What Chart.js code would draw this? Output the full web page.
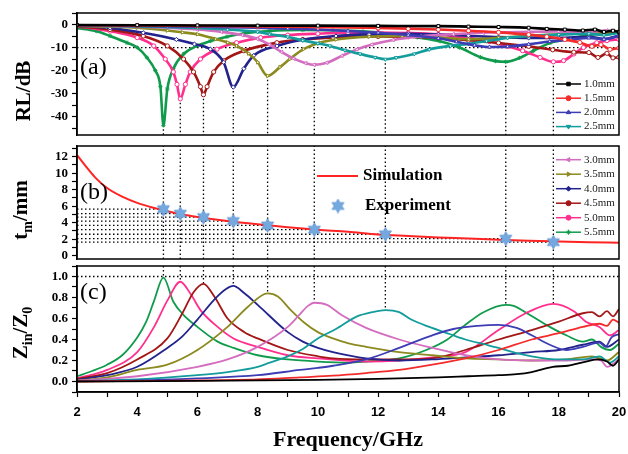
<!DOCTYPE html>
<html>
<head>
<meta charset="utf-8">
<script src="https://cdn.jsdelivr.net/npm/chart.js@4.4.0/dist/chart.umd.min.js"></script>
<style>
  html, body { margin: 0; padding: 0; background: #fff; }
  #wrap { position: relative; width: 628px; height: 454px; overflow: hidden; }
  #wrap canvas { position: absolute; left: 0; }
  .ytitle { position: absolute; transform: translate(-50%, -50%) rotate(-90deg); white-space: nowrap;
            font: bold 21px "Liberation Serif", "Times New Roman", serif; color: #000; }
  .ytitle sub { font-size: 14px; vertical-align: -5px; }
  .plab { position: absolute; transform: translateY(-50%); font: 24px "Liberation Serif", "Times New Roman", serif; color: #000; }
</style>
</head>
<body>
<div id="wrap">
  <canvas id="panelA" width="628" height="140" style="top:0px"></canvas>
  <canvas id="panelB" width="628" height="131" style="top:137px"></canvas>
  <canvas id="panelC" width="628" height="191" style="top:263px"></canvas>
  <div class="ytitle" style="left:23px; top:91px">RL/dB</div>
  <div class="ytitle" style="left:22px; top:210px">t<sub>m</sub>/mm</div>
  <div class="ytitle" style="left:22px; top:333px">Z<sub>in</sub>/Z<sub>0</sub></div>
  <div class="plab" style="left:80px; top:66px">(a)</div>
  <div class="plab" style="left:80px; top:191px">(b)</div>
  <div class="plab" style="left:80px; top:291px">(c)</div>
</div>
<script>
// ---- data ----
const thickness = ['1.0mm', '1.5mm', '2.0mm', '2.5mm', '3.0mm', '3.5mm', '4.0mm', '4.5mm', '5.0mm', '5.5mm'];

// (a) reflection loss, [GHz, dB]
const rl10 = [[2,-0.2],[4,-0.3],[6,-0.4],[8,-0.5],[10,-0.5],[12,-0.6],[14,-0.7],[15,-0.9],[16,-1.1],[17,-1.4],[17.6,-1.9],[18.2,-2.2],[18.8,-2.6],[19.2,-2.2],[19.5,-3.2],[19.8,-2.7],[20,-3.3]];
const rl15 = [[2,-0.3],[4,-0.4],[6,-0.6],[8,-0.8],[10,-1.1],[12,-1.5],[13,-1.8],[14,-2.2],[15,-2.7],[16,-3.4],[17,-4.4],[17.6,-5.3],[18.2,-6.5],[18.7,-7.8],[19.1,-9.5],[19.4,-8.8],[19.7,-10.8],[20,-10.2]];
const rl20 = [[2,-0.4],[4,-0.6],[6,-0.9],[8,-1.4],[9,-1.8],[10,-2.2],[11,-2.8],[12,-3.6],[13,-4.6],[14,-6.0],[14.6,-7.5],[15.2,-9.0],[15.7,-9.8],[16.3,-9.6],[17,-8.6],[17.7,-7.4],[18.4,-6.5],[19,-5.8],[19.5,-6.4],[20,-5.0]];
const rl25 = [[2,-0.4],[3,-0.6],[4,-0.8],[5,-1.1],[6,-1.5],[7,-2.2],[8,-3.2],[8.4,-4.2],[9,-5.4],[9.5,-6.9],[10,-8.2],[10.4,-9.3],[10.9,-11.2],[11.4,-12.8],[11.9,-14.3],[12.24,-15.1],[12.6,-14.4],[13.2,-12.8],[13.7,-10.8],[14.4,-9.3],[15,-8.4],[15.6,-7.2],[16.3,-5.8],[17,-5.0],[18,-4.4],[19,-4.0],[19.5,-4.6],[20,-3.6]];
const rl30 = [[2,-0.5],[3,-0.6],[4,-0.9],[5,-1.4],[6,-2.2],[6.8,-3.2],[7.5,-4.6],[8,-6.3],[8.4,-8.8],[8.8,-12.0],[9.2,-14.8],[9.6,-16.8],[9.88,-17.5],[10.3,-16.6],[10.8,-13.6],[11.3,-10.8],[11.8,-8.7],[12.5,-6.7],[13.4,-5.2],[14.5,-4.2],[15.5,-3.6],[17,-3.2],[18,-3.0],[19,-3.3],[19.6,-2.6],[20,-3.0]];
const rl35 = [[2,-0.6],[3,-0.9],[4,-1.4],[5,-2.6],[5.5,-3.4],[6,-4.2],[6.6,-6.3],[7,-7.8],[7.3,-9.3],[7.7,-12.6],[8,-16.4],[8.33,-22.3],[8.74,-18.5],[9.07,-15.0],[9.52,-10.7],[10.07,-7.9],[10.6,-6.5],[11.7,-5.3],[12.8,-5.0],[14,-5.7],[15,-6.4],[16,-5.8],[17,-4.9],[18,-4.2],[19,-3.6],[19.5,-4.0],[20,-3.0]];
const rl40 = [[2,-0.6],[3.1,-1.5],[4.2,-3.6],[5.3,-6.5],[5.9,-8.5],[6.43,-10.7],[6.87,-16.4],[7.19,-27.2],[7.54,-19.2],[7.87,-13.5],[8.64,-9.3],[9.5,-6.6],[10.6,-5.0],[11.7,-4.3],[13,-4.0],[14,-4.3],[15,-4.9],[16,-5.5],[17,-5.8],[18,-5.8],[19,-5.3],[19.5,-6.3],[20,-4.8]];
const rl45 = [[2,-0.8],[3.1,-2.2],[4.2,-5.0],[5,-9.3],[5.54,-15.0],[5.87,-20.6],[6.1,-27.0],[6.2,-30.5],[6.32,-27.0],[6.54,-20.6],[6.87,-15.7],[7.54,-11.4],[8.64,-7.9],[9.5,-6.5],[10.5,-5.6],[12,-5.2],[13,-5.3],[14,-5.8],[15,-6.8],[16,-8.0],[17,-9.5],[17.8,-11.0],[18.5,-12.0],[19,-12.2],[19.3,-14.3],[19.6,-12.5],[19.8,-14.5],[20,-14.2]];
const rl50 = [[2,-0.7],[3.1,-2.9],[4.0,-5.7],[4.55,-9.3],[4.93,-15.0],[5.2,-20.6],[5.32,-26.0],[5.43,-32.3],[5.6,-26.0],[5.76,-20.6],[6.1,-15.0],[6.65,-10.7],[7.3,-7.9],[8.1,-5.7],[9,-4.6],[10,-4.0],[11,-3.6],[12,-3.5],[13,-3.7],[14,-4.3],[15,-5.8],[15.7,-7.4],[16.3,-9.5],[16.8,-11.4],[17.38,-14.3],[17.82,-16.2],[18.16,-15.7],[18.5,-12.8],[18.82,-10.0],[19.26,-7.9],[19.6,-7.0],[20,-6.5]];
const rl55 = [[2,-1.5],[2.66,-2.9],[3.1,-5.0],[3.66,-7.9],[4.0,-10.0],[4.32,-14.3],[4.6,-20.0],[4.77,-27.0],[4.87,-43.8],[5.0,-28.0],[5.2,-19.2],[5.54,-12.8],[5.98,-9.3],[6.43,-7.2],[6.98,-5.3],[7.54,-3.9],[8.4,-2.8],[9.5,-2.4],[10.5,-2.5],[11.5,-3.0],[12.5,-4.2],[13.3,-5.6],[14.06,-7.3],[14.7,-10.0],[15.4,-14.2],[15.9,-15.9],[16.24,-16.2],[16.7,-14.5],[17.16,-11.4],[17.71,-8.0],[18.27,-6.4],[18.82,-5.0],[19.37,-3.9],[19.7,-3.2],[20,-3.6]];

// (c) normalised input impedance, [GHz, |Zin/Z0|]
const z10 = [[2,0.0],[6,0.005],[10,0.015],[12,0.025],[14,0.04],[15,0.05],[16,0.06],[16.6,0.07],[17.1,0.09],[17.8,0.14],[18.3,0.15],[18.9,0.19],[19.3,0.21],[19.6,0.19],[19.8,0.15],[20,0.21]];
const z15 = [[2,0.0],[4,0.005],[6,0.01],[8,0.02],[9.4,0.04],[10.5,0.055],[11.6,0.08],[12.7,0.11],[13.8,0.16],[14.9,0.22],[16,0.30],[17.1,0.40],[18,0.46],[18.8,0.52],[19.35,0.55],[19.6,0.53],[19.8,0.59],[20,0.56]];
const z20 = [[2,0.003],[4,0.01],[6,0.03],[8,0.06],[9.4,0.11],[10,0.13],[10.5,0.15],[11.6,0.21],[12.7,0.32],[13.8,0.44],[14.5,0.50],[15.3,0.53],[16,0.54],[16.6,0.51],[17.1,0.44],[17.7,0.35],[18.25,0.30],[18.8,0.33],[19.35,0.37],[19.55,0.33],[19.75,0.42],[20,0.45]];
const z25 = [[2,0.005],[4,0.02],[6,0.06],[7,0.09],[8,0.14],[8.4,0.18],[9,0.24],[9.5,0.31],[10,0.41],[10.6,0.50],[11.3,0.62],[11.8,0.66],[12.24,0.68],[12.7,0.66],[13.1,0.59],[13.7,0.52],[14.4,0.45],[14.9,0.40],[15.6,0.35],[16,0.32],[16.6,0.27],[17.1,0.24],[18,0.21],[18.8,0.21],[19.35,0.24],[19.7,0.18],[20,0.24]];
const z30 = [[2,0.006],[4,0.05],[6,0.14],[7,0.21],[8,0.33],[9,0.52],[9.4,0.64],[9.67,0.72],[9.88,0.75],[10.3,0.73],[10.8,0.63],[11.6,0.51],[12.7,0.40],[13.8,0.32],[14.9,0.25],[16,0.21],[17.1,0.20],[18.25,0.20],[19.1,0.21],[19.4,0.20],[19.6,0.14],[20,0.21]];
const z35 = [[2,0.01],[3,0.04],[4,0.11],[5,0.16],[6,0.30],[7,0.52],[7.67,0.71],[8.33,0.84],[8.67,0.81],[9.1,0.68],[9.55,0.56],[10,0.47],[10.5,0.41],[11.05,0.36],[11.6,0.33],[12.7,0.28],[13.8,0.25],[14.9,0.22],[16,0.21],[17.1,0.20],[18.25,0.21],[19.1,0.24],[19.6,0.20],[20,0.28]];
const z40 = [[2,0.016],[3,0.06],[4,0.14],[5,0.32],[5.5,0.43],[6,0.59],[6.56,0.78],[6.95,0.88],[7.19,0.91],[7.56,0.84],[8,0.73],[9,0.47],[9.5,0.38],[10,0.32],[10.5,0.28],[11.6,0.22],[12.7,0.20],[13.8,0.21],[14.9,0.23],[16,0.25],[17.1,0.28],[18,0.30],[18.8,0.35],[19.35,0.38],[19.6,0.33],[20,0.40]];
const z45 = [[2,0.025],[3,0.08],[4,0.21],[5,0.41],[5.5,0.65],[5.87,0.85],[6.2,0.93],[6.56,0.81],[7,0.60],[7.56,0.47],[8,0.41],[9,0.30],[10,0.24],[10.5,0.22],[11.6,0.21],[12.7,0.21],[13.8,0.22],[14.9,0.30],[16,0.40],[17.1,0.49],[18,0.57],[18.8,0.65],[19.1,0.66],[19.35,0.62],[19.6,0.67],[19.8,0.62],[20,0.69]];
const z50 = [[2,0.03],[3,0.11],[4,0.28],[4.56,0.52],[5,0.77],[5.43,0.95],[5.78,0.83],[6.1,0.68],[6.67,0.52],[7.2,0.41],[8,0.33],[9,0.25],[10,0.22],[11.6,0.19],[12.7,0.20],[13.8,0.23],[14.9,0.28],[16,0.49],[16.9,0.65],[17.82,0.74],[18.5,0.67],[18.9,0.57],[19.35,0.52],[19.7,0.44],[20,0.49]];
const z55 = [[2,0.05],[2.5,0.10],[3,0.16],[3.5,0.25],[4,0.42],[4.3,0.57],[4.55,0.76],[4.87,0.99],[5.2,0.76],[5.55,0.63],[6,0.52],[6.67,0.38],[7.2,0.32],[8,0.25],[9,0.21],[10,0.19],[11,0.18],[11.6,0.19],[12.7,0.22],[13.6,0.30],[14.3,0.40],[14.9,0.54],[15.5,0.66],[16.24,0.73],[16.5,0.72],[17,0.64],[17.7,0.52],[18.25,0.44],[18.8,0.38],[19.1,0.40],[19.4,0.33],[19.7,0.30],[20,0.36]];

// (b) matching thickness
const simFreq = [2, 2.3, 2.6, 3, 3.5, 4, 4.5, 5, 5.5, 6, 7, 8, 9, 10, 11, 12, 13, 14, 15, 16, 17, 18, 19, 20];
const simT = [12.2, 10.8, 9.5, 8.2, 7.15, 6.4, 5.85, 5.4, 5.0, 4.7, 4.2, 3.8, 3.45, 3.15, 2.9, 2.58, 2.4, 2.22, 2.08, 1.92, 1.81, 1.71, 1.63, 1.57];
const matchFreq = [4.87, 5.43, 6.2, 7.19, 8.33, 9.88, 12.24, 16.24, 17.82];
const expT = [5.64, 5.1, 4.68, 4.2, 3.67, 3.16, 2.6, 2.07, 1.64];
const dipRL = [-43.8, -32.3, -30.5, -27.2, -22.3, -17.5, -15.1, -16.2, -16.2];
const peakZ = [0.99, 0.95, 0.93, 0.91, 0.84, 0.75, 0.68, 0.73, 0.74];

// ---- styling ----
const rlSeries = [rl10, rl15, rl20, rl25, rl30, rl35, rl40, rl45, rl50, rl55];
const zSeries = [z10, z15, z20, z25, z30, z35, z40, z45, z50, z55];
const lineColors = ['#000000', '#f42b2b', '#3c3cb4', '#139c9c', '#d46cbf', '#8c8a1e', '#23238e', '#a31616', '#ff2f8e', '#0f9b4b'];
const markers = ['rect', 'circle', 'triangle', 'triangle', 'triangle', 'triangle', 'rectRot', 'circle', 'circle', 'star'];
const markerTurn = [0, 0, 0, 180, 270, 90, 0, 0, 0, 0];
const A_MIN = -48, A_MAX = 5, B_MIN = -0.4, B_MAX = 13.3, C_MIN = -0.1, C_MAX = 1.1;
const SERIF = '"Liberation Serif", "Times New Roman", serif';

function makeStar(size, color) {
  const c = document.createElement('canvas');
  c.width = c.height = size;
  const g = c.getContext('2d');
  const m = size / 2, R = size / 2 - 0.6, r = R * 0.56;
  g.beginPath();
  for (let k = 0; k < 12; k++) {
    const a = -Math.PI / 2 + k * Math.PI / 6;
    const rad = k % 2 ? r : R;
    g.lineTo(m + rad * Math.cos(a), m + rad * Math.sin(a));
  }
  g.closePath();
  g.fillStyle = color;
  g.fill();
  g.strokeStyle = '#5a8fce';
  g.lineWidth = 0.8;
  g.stroke();
  return c;
}
const starImg = makeStar(15, '#74a9e0');

function guide(points) {
  return { data: points, borderColor: '#000', borderWidth: 1.3, borderDash: [1.5, 2.5],
           pointRadius: 0, fill: false, order: 5 };
}

function yAxis(min, max, step, fmt) {
  return {
    min, max,
    ticks: { stepSize: step, includeBounds: false, autoSkip: false, padding: 4, color: '#000',
             font: { family: SERIF, size: 13, weight: 'bold' }, callback: fmt },
    grid: { drawOnChartArea: false, drawTicks: true, tickLength: 5, color: '#000', tickWidth: 1.2 },
    border: { display: true, color: '#000', width: 1.5 },
    afterFit(s) { s.width = 77; s.paddingTop = 0; s.paddingBottom = 0; }
  };
}

const framePlugin = {
  id: 'frame',
  afterDraw(chart) {
    const { ctx, chartArea: a } = chart;
    ctx.save();
    ctx.strokeStyle = '#000';
    ctx.lineWidth = 1.5;
    ctx.strokeRect(a.left, a.top, a.right - a.left, a.bottom - a.top);
    ctx.restore();
  }
};

function drawThickKey(ctx, idx, xLine, yStart, step) {
  ctx.save();
  ctx.font = '11px ' + SERIF;
  ctx.textBaseline = 'middle';
  idx.forEach((i, k) => {
    const y = yStart + k * step;
    ctx.strokeStyle = lineColors[i];
    ctx.lineWidth = 1.5;
    ctx.beginPath();
    ctx.moveTo(xLine, y);
    ctx.lineTo(xLine + 25, y);
    ctx.stroke();
    ctx.fillStyle = lineColors[i];
    ctx.lineWidth = 1;
    Chart.helpers.drawPoint(ctx, { pointStyle: markers[i], rotation: markerTurn[i], radius: 2.5, borderWidth: 1 }, xLine + 12.5, y);
    ctx.fillStyle = '#222';
    ctx.fillText(thickness[i], xLine + 28, y);
  });
  ctx.restore();
}

const common = {
  responsive: false, animation: false, events: [], devicePixelRatio: 1,
  plugins: { legend: { display: false }, tooltip: { enabled: false } }
};
const hiddenX = { type: 'linear', min: 2, max: 20, display: false };

// ---- (a) RL ----
const aSets = rlSeries.map((d, i) => ({
  data: d, borderColor: lineColors[i], borderWidth: 2.6, cubicInterpolationMode: 'monotone',
  pointStyle: markers[i], pointRotation: markerTurn[i], pointRadius: 2.1, pointBorderWidth: 1,
  pointBorderColor: lineColors[i], pointBackgroundColor: '#fff', fill: false, order: 1
}));
aSets.push(guide([[2, -10], [20, -10]]));
matchFreq.forEach((f, i) => aSets.push(guide([[f, dipRL[i]], [f, A_MIN]])));

new Chart(document.getElementById('panelA'), {
  type: 'line',
  data: { datasets: aSets },
  options: {
    ...common,
    layout: { padding: { top: 13, bottom: 3, left: 0, right: 9 } },
    scales: { x: hiddenX, y: yAxis(A_MIN, A_MAX, 5, v => (v % 10 === 0 ? v : '')) }
  },
  plugins: [framePlugin, { id: 'keyA', afterDraw: c => drawThickKey(c.ctx, [0, 1, 2, 3], c.chartArea.right - 63, c.chartArea.bottom - 51, 14.2) }]
});

// ---- (b) matching thickness ----
const bSets = [
  { data: matchFreq.map((f, i) => [f, expT[i]]), showLine: false, pointStyle: starImg, pointRadius: 8, order: 0 },
  { data: simFreq.map((f, i) => [f, simT[i]]), borderColor: '#ff2424', borderWidth: 2, pointRadius: 0,
    cubicInterpolationMode: 'monotone', fill: false, order: 1 }
];
matchFreq.forEach((f, i) => {
  bSets.push(guide([[f, B_MIN], [f, B_MAX]]));
  bSets.push(guide([[2, expT[i]], [f, expT[i]]]));
});

new Chart(document.getElementById('panelB'), {
  type: 'line',
  data: { datasets: bSets },
  options: {
    ...common,
    layout: { padding: { top: 0, bottom: 3, left: 0, right: 9 } },
    scales: { x: hiddenX, y: yAxis(B_MIN, B_MAX, 1, v => (v % 2 === 0 ? v : '')) }
  },
  plugins: [framePlugin, {
    id: 'keyB',
    afterDraw(c) {
      const ctx = c.ctx, a = c.chartArea;
      drawThickKey(ctx, [4, 5, 6, 7, 8, 9], a.right - 63, a.top + 13.7, 14.5);
      ctx.save();
      ctx.strokeStyle = '#ff2424';
      ctx.lineWidth = 2;
      ctx.beginPath();
      ctx.moveTo(317, a.top + 30);
      ctx.lineTo(358, a.top + 30);
      ctx.stroke();
      ctx.drawImage(starImg, 338 - 7.5, a.top + 60 - 7.5);
      ctx.fillStyle = '#000';
      ctx.font = 'bold 17px ' + SERIF;
      ctx.textBaseline = 'middle';
      ctx.fillText('Simulation', 363, a.top + 30);
      ctx.fillText('Experiment', 365, a.top + 60);
      ctx.restore();
    }
  }]
});

// ---- (c) Zin/Z0 ----
const cSets = zSeries.map((d, i) => ({
  data: d, borderColor: lineColors[i], borderWidth: 1.8, cubicInterpolationMode: 'monotone',
  pointRadius: 0, fill: false, order: 1
}));
cSets.push(guide([[2, 1], [20, 1]]));
matchFreq.forEach((f, i) => cSets.push(guide([[f, C_MAX], [f, peakZ[i]]])));

new Chart(document.getElementById('panelC'), {
  type: 'line',
  data: { datasets: cSets },
  options: {
    ...common,
    layout: { padding: { top: 3, bottom: 0, left: 0, right: 9 } },
    scales: {
      x: {
        type: 'linear', min: 2, max: 20,
        ticks: { stepSize: 1, autoSkip: false, maxRotation: 0, padding: 8, color: '#000',
                 font: { family: '"Liberation Sans", Arial, sans-serif', size: 13, weight: 'bold' },
                 callback: v => (v % 2 === 0 ? v : '') },
        grid: { drawOnChartArea: false, drawTicks: true, tickLength: 5, color: '#000', tickWidth: 1.2 },
        border: { display: true, color: '#000', width: 1.5 },
        title: { display: true, text: 'Frequency/GHz', color: '#000', padding: { top: 0, bottom: 0 },
                 font: { family: SERIF, size: 22, weight: 'bold' } },
        afterFit(s) { s.height = 62; s.paddingLeft = 0; s.paddingRight = 0; }
      },
      y: yAxis(C_MIN, C_MAX, 0.1, v => (Math.round(v * 10) % 2 === 0 ? v.toFixed(1) : ''))
    }
  },
  plugins: [framePlugin]
});
</script>
</body>
</html>
